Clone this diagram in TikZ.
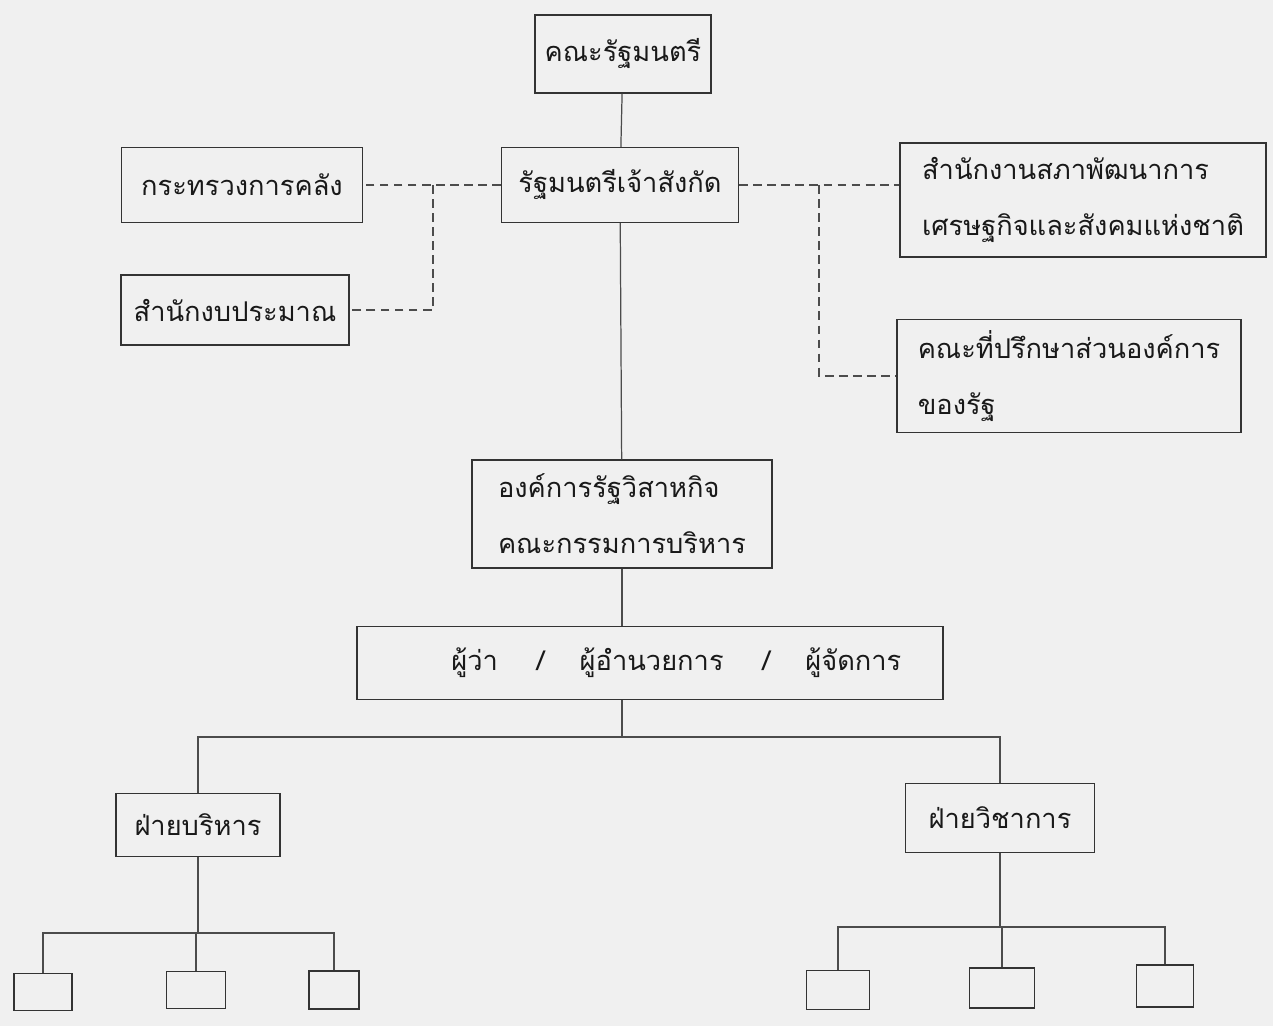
\documentclass[tikz,border=0pt]{standalone}
\usepackage{fontspec}
\newfontfamily\thaifont[Script=Thai]{Loma}
\tikzset{
	orgbox/.style 2 args={
			draw=black!80, line width=0.8pt, inner sep=0pt,
			minimum width=#1*0.02cm, minimum height=#2*0.02cm,
			font=\thaifont\fontsize{15.5}{32}\selectfont, text=black!90
		},
	link/.style={draw=black!70, line width=0.7pt},
	sidelink/.style={link, dash pattern=on 5pt off 3pt}
}

\begin{document}
\begin{tikzpicture}[x=0.02cm,y=-0.02cm]
	\fill[black!6] (0,0) rectangle (1273,1026);
	\useasboundingbox (0,0) rectangle (1273,1026);
	\node[orgbox={176}{78}] (cab) at (623,54) {คณะรัฐมนตรี};
	\node[orgbox={237}{75}] (minister) at (620,185) {รัฐมนตรีเจ้าสังกัด};
	\node[orgbox={241}{75}] (finance) at (242,185) {กระทรวงการคลัง};
	\node[orgbox={228}{70}] (budget) at (235,310) {สำนักงบประมาณ};
	\node[orgbox={366}{114}, align=left] (nesdb) at (1083,200) {สำนักงานสภาพัฒนาการ\\เศรษฐกิจและสังคมแห่งชาติ};
	\node[orgbox={344}{113}, align=left] (council) at (1069,376) {คณะที่ปรึกษาส่วนองค์การ\\ของรัฐ};
	\node[orgbox={300}{108}, align=left] (soe) at (622,514) {องค์การรัฐวิสาหกิจ\\คณะกรรมการบริหาร};
	\node[orgbox={586}{73}] (ceo) at (650,663) {\hspace*{30pt}ผู้ว่า\hspace{22pt}/\hspace{20pt}ผู้อำนวยการ\hspace{22pt}/\hspace{20pt}ผู้จัดการ};
	\node[orgbox={164}{63}] (admin) at (198,825) {ฝ่ายบริหาร};
	\node[orgbox={189}{69}] (acad) at (1000,818) {ฝ่ายวิชาการ};
	% empty units below each division
	\node[orgbox={58}{37}] (adminA) at (43,992) {};
	\node[orgbox={59}{37}] (adminB) at (196,990) {};
	\node[orgbox={50}{38}] (adminC) at (334,990) {};
	\node[orgbox={63}{39}] (acadA) at (838,990) {};
	\node[orgbox={65}{40}] (acadB) at (1002,988) {};
	\node[orgbox={57}{42}] (acadC) at (1165,986) {};

	\draw[link] (cab) -- (minister);
	\draw[sidelink] (minister.west) -- (finance.east);
	\coordinate (jf) at (433,185);
	\draw[sidelink] (jf) |- (budget.east);
	\draw[sidelink] (minister.east) -- (minister.east -| nesdb.west);
	\coordinate (jn) at (819,185);
	\draw[sidelink] (jn) |- (council.west);
	\draw[link] (minister) -- (soe);
	\draw[link] (soe.south) -- (soe.south |- ceo.north);
	\coordinate (bus) at (622,737);
	\draw[link] (ceo.south -| bus) -- (bus);
	\draw[link] (admin.north) |- (bus) -| (acad.north);
	\coordinate (adminbus) at (admin.south |- 0,933);
	\draw[link] (admin.south) -- (adminbus);
	\draw[link] (adminA.north) |- (adminbus) -| (adminC.north);
	\draw[link] (adminB.north) -- (adminB.north |- adminbus);
	\coordinate (acadbus) at (acad.south |- 0,927);
	\draw[link] (acad.south) -- (acadbus);
	\draw[link] (acadA.north) |- (acadbus) -| (acadC.north);
	\draw[link] (acadB.north) -- (acadB.north |- acadbus);
\end{tikzpicture}
\end{document}
